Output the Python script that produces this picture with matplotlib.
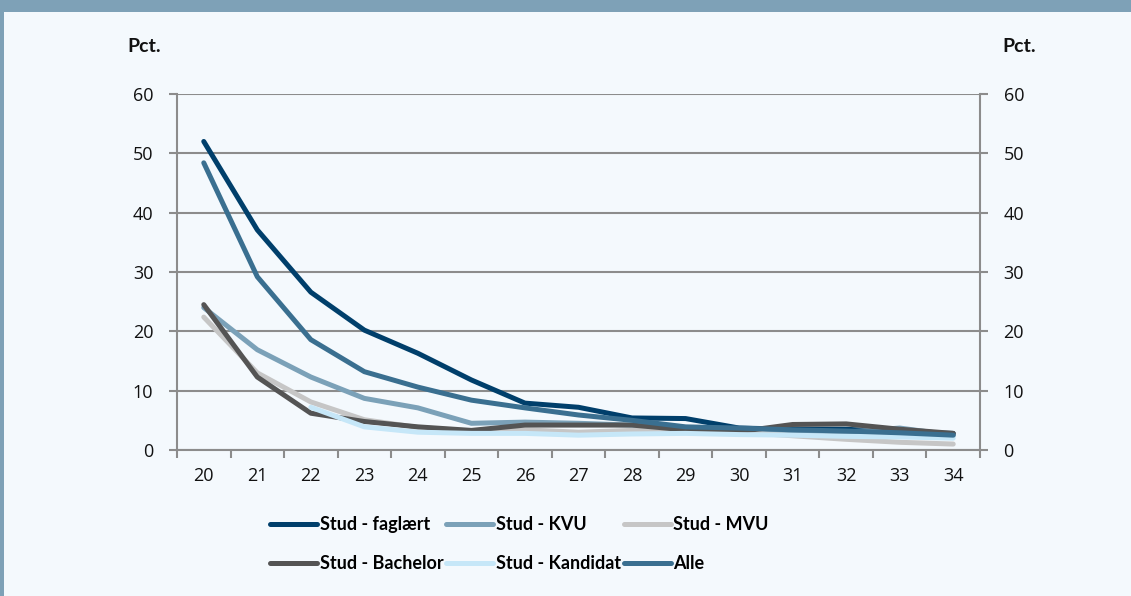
import matplotlib
matplotlib.use("Agg")
import matplotlib.pyplot as plt
import numpy as np
from matplotlib.ticker import FixedLocator

ages = [20, 21, 22, 23, 24, 25, 26, 27, 28, 29, 30, 31, 32, 33, 34]
faglaert = [52.0, 37.1, 26.6, 20.2, 16.3, 11.8, 7.9, 7.2, 5.4, 5.3, 3.7, 3.5, 3.5, 3.0, 2.8]
kvu = [24.0, 16.9, 12.3, 8.7, 7.1, 4.5, 4.7, 4.5, 4.2, 3.8, 3.5, 3.0, 3.0, 3.7, 2.5]
mvu = [22.4, 13.0, 8.1, 5.1, 3.8, 3.2, 3.4, 3.0, 3.3, 3.2, 3.0, 2.4, 1.8, 1.3, 1.0]
bachelor = [24.5, 12.3, 6.2, 4.8, 3.9, 3.3, 4.2, 4.2, 4.2, 3.4, 3.1, 4.3, 4.4, 3.5, 2.8]
kandidat = [np.nan, np.nan, 7.2, 3.9, 3.0, 2.8, 2.8, 2.5, 2.7, 2.8, 2.6, 2.5, 2.3, 2.2, 2.0]
alle = [48.4, 29.2, 18.6, 13.2, 10.6, 8.4, 7.1, 5.9, 5.0, 3.9, 3.7, 3.4, 3.2, 2.9, 2.5]

series = [
    ("Stud - faglært", faglaert, "#003f6b"),
    ("Stud - KVU", kvu, "#7ba1b8"),
    ("Stud - MVU", mvu, "#c6c6c6"),
    ("Stud - Bachelor", bachelor, "#545454"),
    ("Stud - Kandidat", kandidat, "#c6e7f8"),
    ("Alle", alle, "#3a6f90"),
]
yticks = [0, 10, 20, 30, 40, 50, 60]

W, H = 1131, 596
bg = "#f4f9fd"
frame = "#7ea1b7"
grid = "#8c8c8c"

fig = plt.figure(figsize=(W / 100, H / 100), dpi=100, facecolor=bg)
# top bar and left border
fig.patches.append(plt.Rectangle((0, 1 - 12 / H), 1, 12 / H, transform=fig.transFigure,
                                 facecolor=frame, edgecolor="none", zorder=0))
fig.patches.append(plt.Rectangle((0, 0), 4 / W, 1, transform=fig.transFigure,
                                 facecolor=frame, edgecolor="none", zorder=0))

ax = fig.add_axes([177 / W, (H - 450) / H, (980 - 177) / W, (450 - 94) / H])
ax.set_facecolor(bg)
x = np.arange(len(ages))
handles = []
for name, vals, col in series:
    ln, = ax.plot(x, vals, color=col, lw=3.6, solid_capstyle="round",
                  solid_joinstyle="round", label=name, zorder=3)
    handles.append(ln)

ax.set_xlim(-0.5, len(ages) - 0.5)
ax.set_ylim(0, 60)
ax.set_xticks(x)
ax.set_xticklabels([str(a) for a in ages])
ax.xaxis.set_minor_locator(FixedLocator(np.arange(-0.5, len(ages), 1.0)))
ax.tick_params(axis="x", which="major", length=0, pad=12, labelsize=13, labelcolor="#111111")
ax.tick_params(axis="x", which="minor", length=6, width=1.5, color=grid, direction="out")
ax.set_yticks(yticks)
ax.tick_params(axis="y", which="major", length=6, width=1.5, color=grid, direction="out",
               labelsize=13, pad=11, left=True, right=True, labelleft=True, labelright=True,
               labelcolor="#111111")
for t in ax.xaxis.get_ticklabels() + ax.yaxis.get_ticklabels(which="both"):
    t.set_fontfamily("Open Sans")

ax.grid(axis="y", color=grid, lw=1.5, zorder=1)
ax.set_axisbelow(True)
ax.spines["top"].set_visible(False)
for s in ["left", "right", "bottom"]:
    ax.spines[s].set_color(grid)
    ax.spines[s].set_linewidth(1.5)

fig.text(127 / W, 1 - 46 / H, "Pct.", fontsize=14, fontweight="bold", family="Lato",
         va="center", ha="left", color="#111111")
fig.text(1002 / W, 1 - 46 / H, "Pct.", fontsize=14, fontweight="bold", family="Lato",
         va="center", ha="left", color="#111111")

# legend filled column-wise: reorder so rows read in series order
ncol = 3
nrow = 2
order = [r * ncol + c for c in range(ncol) for r in range(nrow)]
leg = fig.legend(handles=[handles[i] for i in order], loc="upper left",
                 bbox_to_anchor=(254 / W, 1 - 500 / H),
                 ncol=ncol, frameon=False, handlelength=2.6, handletextpad=0.15,
                 columnspacing=0.15, labelspacing=1.2,
                 prop={"family": "Lato", "weight": "bold", "size": 13})
for line in leg.get_lines():
    line.set_solid_capstyle("round")
    line.set_linewidth(3.6)

fig.savefig("out.png", dpi=100, facecolor=bg)
